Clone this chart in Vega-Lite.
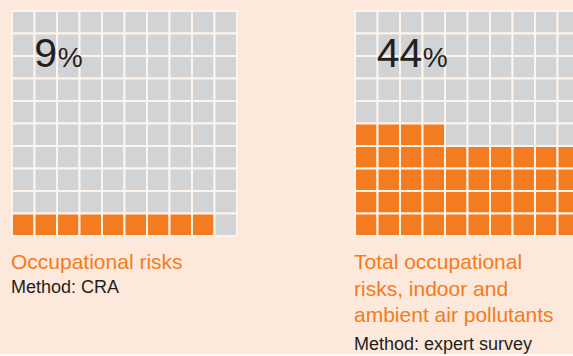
{
  "$schema": "https://vega.github.io/schema/vega-lite/v6.json",
  "background": "#fde9db",
  "padding": {"left": 11, "top": 10, "right": 0, "bottom": 0},
  "config": {"view": {"stroke": null}, "concat": {"spacing": 116}},
  "hconcat": [
    {
      "width": 225,
      "height": 225,
      "title": {"text": ["Occupational risks"], "subtitle": "Method: CRA", "orient": "bottom", "anchor": "start", "font": "Liberation Sans", "fontSize": 21, "fontWeight": "normal", "color": "#f47b20", "lineHeight": 26.5, "subtitleFont": "Liberation Sans", "subtitleFontSize": 18, "subtitleColor": "#231f20", "offset": 15, "subtitlePadding": 6},
      "layer": [
        {
          "data": {"values": [
            {"c":0,"r":0,"f":0},{"c":1,"r":0,"f":0},{"c":2,"r":0,"f":0},{"c":3,"r":0,"f":0},{"c":4,"r":0,"f":0},{"c":5,"r":0,"f":0},{"c":6,"r":0,"f":0},{"c":7,"r":0,"f":0},{"c":8,"r":0,"f":0},{"c":9,"r":0,"f":0},
            {"c":0,"r":1,"f":0},{"c":1,"r":1,"f":0},{"c":2,"r":1,"f":0},{"c":3,"r":1,"f":0},{"c":4,"r":1,"f":0},{"c":5,"r":1,"f":0},{"c":6,"r":1,"f":0},{"c":7,"r":1,"f":0},{"c":8,"r":1,"f":0},{"c":9,"r":1,"f":0},
            {"c":0,"r":2,"f":0},{"c":1,"r":2,"f":0},{"c":2,"r":2,"f":0},{"c":3,"r":2,"f":0},{"c":4,"r":2,"f":0},{"c":5,"r":2,"f":0},{"c":6,"r":2,"f":0},{"c":7,"r":2,"f":0},{"c":8,"r":2,"f":0},{"c":9,"r":2,"f":0},
            {"c":0,"r":3,"f":0},{"c":1,"r":3,"f":0},{"c":2,"r":3,"f":0},{"c":3,"r":3,"f":0},{"c":4,"r":3,"f":0},{"c":5,"r":3,"f":0},{"c":6,"r":3,"f":0},{"c":7,"r":3,"f":0},{"c":8,"r":3,"f":0},{"c":9,"r":3,"f":0},
            {"c":0,"r":4,"f":0},{"c":1,"r":4,"f":0},{"c":2,"r":4,"f":0},{"c":3,"r":4,"f":0},{"c":4,"r":4,"f":0},{"c":5,"r":4,"f":0},{"c":6,"r":4,"f":0},{"c":7,"r":4,"f":0},{"c":8,"r":4,"f":0},{"c":9,"r":4,"f":0},
            {"c":0,"r":5,"f":0},{"c":1,"r":5,"f":0},{"c":2,"r":5,"f":0},{"c":3,"r":5,"f":0},{"c":4,"r":5,"f":0},{"c":5,"r":5,"f":0},{"c":6,"r":5,"f":0},{"c":7,"r":5,"f":0},{"c":8,"r":5,"f":0},{"c":9,"r":5,"f":0},
            {"c":0,"r":6,"f":0},{"c":1,"r":6,"f":0},{"c":2,"r":6,"f":0},{"c":3,"r":6,"f":0},{"c":4,"r":6,"f":0},{"c":5,"r":6,"f":0},{"c":6,"r":6,"f":0},{"c":7,"r":6,"f":0},{"c":8,"r":6,"f":0},{"c":9,"r":6,"f":0},
            {"c":0,"r":7,"f":0},{"c":1,"r":7,"f":0},{"c":2,"r":7,"f":0},{"c":3,"r":7,"f":0},{"c":4,"r":7,"f":0},{"c":5,"r":7,"f":0},{"c":6,"r":7,"f":0},{"c":7,"r":7,"f":0},{"c":8,"r":7,"f":0},{"c":9,"r":7,"f":0},
            {"c":0,"r":8,"f":0},{"c":1,"r":8,"f":0},{"c":2,"r":8,"f":0},{"c":3,"r":8,"f":0},{"c":4,"r":8,"f":0},{"c":5,"r":8,"f":0},{"c":6,"r":8,"f":0},{"c":7,"r":8,"f":0},{"c":8,"r":8,"f":0},{"c":9,"r":8,"f":0},
            {"c":0,"r":9,"f":1},{"c":1,"r":9,"f":1},{"c":2,"r":9,"f":1},{"c":3,"r":9,"f":1},{"c":4,"r":9,"f":1},{"c":5,"r":9,"f":1},{"c":6,"r":9,"f":1},{"c":7,"r":9,"f":1},{"c":8,"r":9,"f":1},{"c":9,"r":9,"f":0}
          ]},
          "mark": {"type": "rect", "stroke": "#fef4eb", "strokeWidth": 2},
          "encoding": {
            "x": {"field": "c", "type": "ordinal", "axis": null, "scale": {"paddingInner": 0, "paddingOuter": 0}},
            "y": {"field": "r", "type": "ordinal", "axis": null, "scale": {"paddingInner": 0, "paddingOuter": 0}},
            "color": {"field": "f", "type": "nominal", "legend": null, "scale": {"domain": [0, 1], "range": ["#d1d3d4", "#f47b20"]}}
          }
        },
        {
          "data": {"values": [{"label": "9", "c": 1, "r": 2}]},
          "mark": {"type": "text", "align": "left", "baseline": "alphabetic", "dx": -11.5, "font": "Liberation Sans", "fontSize": 41, "color": "#231f20"},
          "encoding": {
            "x": {"field": "c", "type": "ordinal"},
            "y": {"field": "r", "type": "ordinal"},
            "text": {"field": "label"}
          }
        },
        {
          "data": {"values": [{"label": "%", "c": 1, "r": 2}]},
          "mark": {"type": "text", "align": "left", "baseline": "alphabetic", "dx": 12, "font": "Liberation Sans", "fontSize": 28, "color": "#231f20"},
          "encoding": {
            "x": {"field": "c", "type": "ordinal"},
            "y": {"field": "r", "type": "ordinal"},
            "text": {"field": "label"}
          }
        }
      ]
    },
    {
      "width": 225,
      "height": 225,
      "title": {"text": ["Total occupational", "risks, indoor and", "ambient air pollutants"], "subtitle": "Method: expert survey", "orient": "bottom", "anchor": "start", "font": "Liberation Sans", "fontSize": 21, "fontWeight": "normal", "color": "#f47b20", "lineHeight": 26.5, "subtitleFont": "Liberation Sans", "subtitleFontSize": 18, "subtitleColor": "#231f20", "offset": 15, "subtitlePadding": 10},
      "layer": [
        {
          "data": {"values": [
            {"c":0,"r":0,"f":0},{"c":1,"r":0,"f":0},{"c":2,"r":0,"f":0},{"c":3,"r":0,"f":0},{"c":4,"r":0,"f":0},{"c":5,"r":0,"f":0},{"c":6,"r":0,"f":0},{"c":7,"r":0,"f":0},{"c":8,"r":0,"f":0},{"c":9,"r":0,"f":0},
            {"c":0,"r":1,"f":0},{"c":1,"r":1,"f":0},{"c":2,"r":1,"f":0},{"c":3,"r":1,"f":0},{"c":4,"r":1,"f":0},{"c":5,"r":1,"f":0},{"c":6,"r":1,"f":0},{"c":7,"r":1,"f":0},{"c":8,"r":1,"f":0},{"c":9,"r":1,"f":0},
            {"c":0,"r":2,"f":0},{"c":1,"r":2,"f":0},{"c":2,"r":2,"f":0},{"c":3,"r":2,"f":0},{"c":4,"r":2,"f":0},{"c":5,"r":2,"f":0},{"c":6,"r":2,"f":0},{"c":7,"r":2,"f":0},{"c":8,"r":2,"f":0},{"c":9,"r":2,"f":0},
            {"c":0,"r":3,"f":0},{"c":1,"r":3,"f":0},{"c":2,"r":3,"f":0},{"c":3,"r":3,"f":0},{"c":4,"r":3,"f":0},{"c":5,"r":3,"f":0},{"c":6,"r":3,"f":0},{"c":7,"r":3,"f":0},{"c":8,"r":3,"f":0},{"c":9,"r":3,"f":0},
            {"c":0,"r":4,"f":0},{"c":1,"r":4,"f":0},{"c":2,"r":4,"f":0},{"c":3,"r":4,"f":0},{"c":4,"r":4,"f":0},{"c":5,"r":4,"f":0},{"c":6,"r":4,"f":0},{"c":7,"r":4,"f":0},{"c":8,"r":4,"f":0},{"c":9,"r":4,"f":0},
            {"c":0,"r":5,"f":1},{"c":1,"r":5,"f":1},{"c":2,"r":5,"f":1},{"c":3,"r":5,"f":1},{"c":4,"r":5,"f":0},{"c":5,"r":5,"f":0},{"c":6,"r":5,"f":0},{"c":7,"r":5,"f":0},{"c":8,"r":5,"f":0},{"c":9,"r":5,"f":0},
            {"c":0,"r":6,"f":1},{"c":1,"r":6,"f":1},{"c":2,"r":6,"f":1},{"c":3,"r":6,"f":1},{"c":4,"r":6,"f":1},{"c":5,"r":6,"f":1},{"c":6,"r":6,"f":1},{"c":7,"r":6,"f":1},{"c":8,"r":6,"f":1},{"c":9,"r":6,"f":1},
            {"c":0,"r":7,"f":1},{"c":1,"r":7,"f":1},{"c":2,"r":7,"f":1},{"c":3,"r":7,"f":1},{"c":4,"r":7,"f":1},{"c":5,"r":7,"f":1},{"c":6,"r":7,"f":1},{"c":7,"r":7,"f":1},{"c":8,"r":7,"f":1},{"c":9,"r":7,"f":1},
            {"c":0,"r":8,"f":1},{"c":1,"r":8,"f":1},{"c":2,"r":8,"f":1},{"c":3,"r":8,"f":1},{"c":4,"r":8,"f":1},{"c":5,"r":8,"f":1},{"c":6,"r":8,"f":1},{"c":7,"r":8,"f":1},{"c":8,"r":8,"f":1},{"c":9,"r":8,"f":1},
            {"c":0,"r":9,"f":1},{"c":1,"r":9,"f":1},{"c":2,"r":9,"f":1},{"c":3,"r":9,"f":1},{"c":4,"r":9,"f":1},{"c":5,"r":9,"f":1},{"c":6,"r":9,"f":1},{"c":7,"r":9,"f":1},{"c":8,"r":9,"f":1},{"c":9,"r":9,"f":1}
          ]},
          "mark": {"type": "rect", "stroke": "#fef4eb", "strokeWidth": 2},
          "encoding": {
            "x": {"field": "c", "type": "ordinal", "axis": null, "scale": {"paddingInner": 0, "paddingOuter": 0}},
            "y": {"field": "r", "type": "ordinal", "axis": null, "scale": {"paddingInner": 0, "paddingOuter": 0}},
            "color": {"field": "f", "type": "nominal", "legend": null, "scale": {"domain": [0, 1], "range": ["#d1d3d4", "#f47b20"]}}
          }
        },
        {
          "data": {"values": [{"label": "44", "c": 1, "r": 2}]},
          "mark": {"type": "text", "align": "left", "baseline": "alphabetic", "dx": -12, "font": "Liberation Sans", "fontSize": 41, "color": "#231f20"},
          "encoding": {
            "x": {"field": "c", "type": "ordinal"},
            "y": {"field": "r", "type": "ordinal"},
            "text": {"field": "label"}
          }
        },
        {
          "data": {"values": [{"label": "%", "c": 1, "r": 2}]},
          "mark": {"type": "text", "align": "left", "baseline": "alphabetic", "dx": 34, "font": "Liberation Sans", "fontSize": 28, "color": "#231f20"},
          "encoding": {
            "x": {"field": "c", "type": "ordinal"},
            "y": {"field": "r", "type": "ordinal"},
            "text": {"field": "label"}
          }
        }
      ]
    }
  ]
}
